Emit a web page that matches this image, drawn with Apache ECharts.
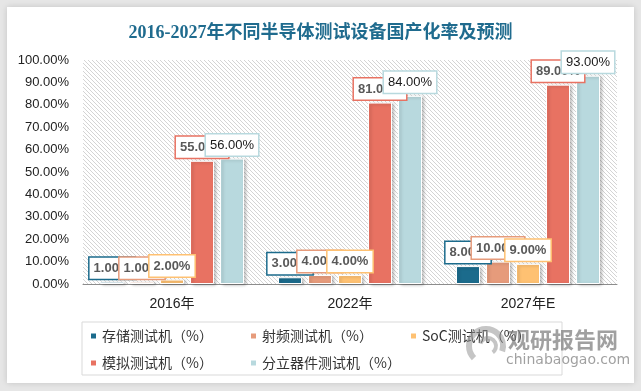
<!DOCTYPE html>
<html><head><meta charset="utf-8">
<script src="https://cdn.jsdelivr.net/npm/echarts@6/dist/echarts.min.js"></script>
<style>html,body{margin:0;padding:0;background:#e6e6e6;}#c{width:641px;height:391px;}</style>
</head><body><div id="c"></div>
<script>
const categories = ['2016年', '2022年', '2027年E'];
const seriesNames = ['存储测试机（%）', '射频测试机（%）', 'SoC测试机（%）', '模拟测试机（%）', '分立器件测试机（%）'];
const memoryTester = [1, 3, 8];
const rfTester = [1, 4, 10];
const socTester = [2, 4, 9];
const analogTester = [55, 81, 89];
const discreteTester = [56, 84, 93];
const yTicks = [0, 10, 20, 30, 40, 50, 60, 70, 80, 90, 100];
const colors = ['#1b6b8c', '#e69b7b', '#fec172', '#e87262', '#b8d9de'];

// hatch pattern
const pc = document.createElement('canvas');
pc.width = 4; pc.height = 4;
const g = pc.getContext('2d');
g.fillStyle = '#ffffff'; g.fillRect(0, 0, 4, 4);
g.strokeStyle = '#d4d4d4'; g.lineWidth = 1;
g.beginPath();
g.moveTo(-1, -1); g.lineTo(5, 5);
g.moveTo(-1, 3); g.lineTo(1, 5);
g.moveTo(3, -1); g.lineTo(5, 1);
g.stroke();

const allData = [memoryTester, rfTester, socTester, analogTester, discreteTester];
const chart = echarts.init(document.getElementById('c'), null, {renderer: 'canvas'});
const series = allData.map((d, i) => ({
  name: seriesNames[i],
  type: 'bar',
  data: d,
  barWidth: 24,
  barGap: '25%',
  itemStyle: {
    color: colors[i], borderColor: '#ffffff', borderWidth: 1,
    shadowColor: 'rgba(0,0,0,0.22)', shadowBlur: 3, shadowOffsetX: 2, shadowOffsetY: 1
  },
  label: {
    show: true, position: 'top', distance: 3,
    formatter: p => p.value.toFixed(2) + '%',
    backgroundColor: '#ffffff', borderColor: colors[i], borderWidth: 1.5,
    padding: [3, 4, 3, 4],
    fontSize: 13, lineHeight: 15,
    fontFamily: 'Liberation Sans, Arial, sans-serif',
    color: i === 4 ? '#1a1a1a' : '#595959',
    fontWeight: i === 4 ? 'normal' : 'bold'
  }
}));

chart.setOption({
  animation: false,
  backgroundColor: '#e6e6e6',
  graphic: [
    {type: 'rect', z: -10, shape: {x: 7, y: 7, width: 627, height: 376},
     style: {fill: '#ffffff', shadowColor: 'rgba(0,0,0,0.15)', shadowBlur: 6}},
    {type: 'arc', z: 10, shape: {cx: 486, cy: 346, r: 17, startAngle: Math.PI * 0.75, endAngle: Math.PI * 2.1},
     style: {stroke: 'rgba(150,150,150,0.55)', lineWidth: 6, fill: null}},
    {type: 'arc', z: 10, shape: {cx: 488, cy: 346, r: 8, startAngle: Math.PI * 1.1, endAngle: Math.PI * 2.3},
     style: {stroke: 'rgba(150,150,150,0.55)', lineWidth: 4, fill: null}},
    {type: 'text', z: 10, left: 508, top: 329,
     style: {text: '观研报告网', fill: 'rgba(120,120,120,0.7)', font: 'bold 22px "Noto Sans CJK SC"'}},
    {type: 'text', z: 10, left: 506, top: 353,
     style: {text: 'chinabaogao.com', fill: 'rgba(120,120,120,0.7)', font: '14px "DejaVu Sans"'}}
  ],
  title: {
    text: '2016-2027年不同半导体测试设备国产化率及预测',
    left: 'center', top: 19,
    textStyle: {color: '#1f6b8e', fontSize: 18, fontWeight: 'bold',
      fontFamily: 'Liberation Serif, "Noto Sans CJK SC", serif'}
  },
  grid: {left: 83, right: 24, top: 60, bottom: 107, show: true,
    backgroundColor: {image: pc, repeat: 'repeat'}, borderWidth: 0},
  legend: {
    data: seriesNames,
    left: 82, top: 322, width: 520,
    padding: [5, 2, 3, 7],
    borderColor: '#d9d9d9', borderWidth: 1,
    itemWidth: 7, itemHeight: 7, itemGap: 9,
    icon: 'rect',
    textStyle: {fontSize: 14, color: '#333', width: 138, lineHeight: 18,
      fontFamily: '"Noto Sans CJK SC", sans-serif'}
  },
  xAxis: {
    type: 'category', data: categories,
    axisLine: {lineStyle: {color: '#8c8c8c', width: 1}},
    axisTick: {show: false},
    axisLabel: {fontSize: 14, color: '#222', margin: 13,
      fontFamily: 'Liberation Sans, "Noto Sans CJK SC", sans-serif'}
  },
  yAxis: {
    type: 'value', min: yTicks[0], max: yTicks[yTicks.length - 1], interval: 10,
    axisLine: {show: false}, axisTick: {show: false}, splitLine: {show: false},
    axisLabel: {fontSize: 13, color: '#222', margin: 14,
      formatter: v => v.toFixed(2) + '%',
      fontFamily: 'Liberation Sans, Arial, sans-serif'}
  },
  series: series
});
</script></body></html>
